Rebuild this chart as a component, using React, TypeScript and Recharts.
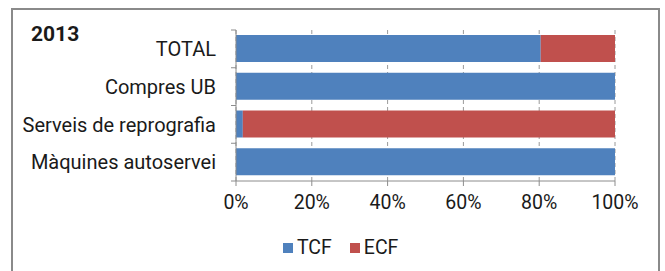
import { BarChart, Bar, XAxis, YAxis, CartesianGrid } from "recharts";

const categories = ["TOTAL", "Compres UB", "Serveis de reprografia", "Màquines autoservei"];
const tcfValues = [0.804, 1, 0.018, 1];
const ecfValues = [0.196, 0, 0.982, 0];
const xTicks = [0, 0.2, 0.4, 0.6, 0.8, 1];
const title = "2013";

const BLUE = "#4F81BD";
const RED = "#C0504D";
const AXIS = "#8c8c8c";
const TEXT = "#1a1a1a";
const FONT = "Roboto, sans-serif";

// plot box (px)
const PLOT_TOP = 30;
const PLOT_BOTTOM = 181;
const PLOT_LEFT = 236;
const X_AXIS_H = 30;
const BAND = (PLOT_BOTTOM - PLOT_TOP) / categories.length;

const data = categories.map((name, i) => ({
  name,
  TCF: tcfValues[i],
  ECF: ecfValues[i],
}));

// label + tick marks at band boundaries (like the Excel original)
const YTick = (props: any) => {
  const { y, payload, index } = props;
  return (
    <g>
      <line x1={PLOT_LEFT - 5} x2={PLOT_LEFT} y1={y - BAND / 2} y2={y - BAND / 2} stroke={AXIS} />
      {index === categories.length - 1 && (
        <line x1={PLOT_LEFT - 5} x2={PLOT_LEFT} y1={y + BAND / 2} y2={y + BAND / 2} stroke={AXIS} />
      )}
      <text
        x={PLOT_LEFT - 20}
        y={y}
        dy="0.36em"
        textAnchor="end"
        fill={TEXT}
        fontSize={20}
        fontFamily={FONT}
      >
        {payload.value}
      </text>
    </g>
  );
};

const LegendItem = ({ color, label }: { color: string; label: string }) => (
  <span style={{ display: "inline-flex", alignItems: "center", marginRight: 18 }}>
    <span style={{ width: 10, height: 10, background: color, display: "inline-block", marginRight: 4 }} />
    <span>{label}</span>
  </span>
);

export default function App() {
  return (
    <div style={{ position: "absolute", left: 0, top: 0, width: 665, height: 271, background: "#fff", fontFamily: FONT }}>
      <div
        style={{
          position: "absolute",
          left: 11,
          top: 8,
          width: 645,
          height: 270,
          border: "2px solid #8a8a8a",
        }}
      />
      <div
        style={{
          position: "absolute",
          left: 31,
          top: 24,
          fontSize: 21,
          lineHeight: "21px",
          fontWeight: 700,
          color: TEXT,
        }}
      >
        {title}
      </div>
      <div style={{ position: "absolute", left: 0, top: 0 }}>
        <BarChart
          width={665}
          height={271}
          data={data}
          layout="vertical"
          margin={{ top: PLOT_TOP, bottom: 271 - PLOT_BOTTOM - X_AXIS_H, left: 0, right: 50 }}
          barSize={27}
        >
          <CartesianGrid
            horizontal={false}
            vertical
            stroke="#9a9a9a"
            strokeDasharray="4 3"
          />
          <XAxis
            type="number"
            domain={[0, 1]}
            ticks={xTicks}
            height={X_AXIS_H}
            tickFormatter={(v: number) => `${Math.round(v * 100)}%`}
            axisLine={{ stroke: AXIS }}
            tickLine={{ stroke: AXIS }}
            tickSize={5}
            tickMargin={9}
            tick={{ fill: TEXT, fontSize: 19.5, fontFamily: FONT }}
            interval={0}
          />
          <YAxis
            type="category"
            dataKey="name"
            width={PLOT_LEFT}
            axisLine={{ stroke: AXIS }}
            tickLine={false}
            tick={<YTick />}
            interval={0}
          />
          <Bar dataKey="TCF" stackId="a" fill={BLUE} isAnimationActive={false} />
          <Bar dataKey="ECF" stackId="a" fill={RED} isAnimationActive={false} />
        </BarChart>
      </div>
      <div
        style={{
          position: "absolute",
          left: 283,
          top: 238,
          fontSize: 19.5,
          lineHeight: "20px",
          color: TEXT,
          display: "flex",
        }}
      >
        <LegendItem color={BLUE} label="TCF" />
        <LegendItem color={RED} label="ECF" />
      </div>
    </div>
  );
}
